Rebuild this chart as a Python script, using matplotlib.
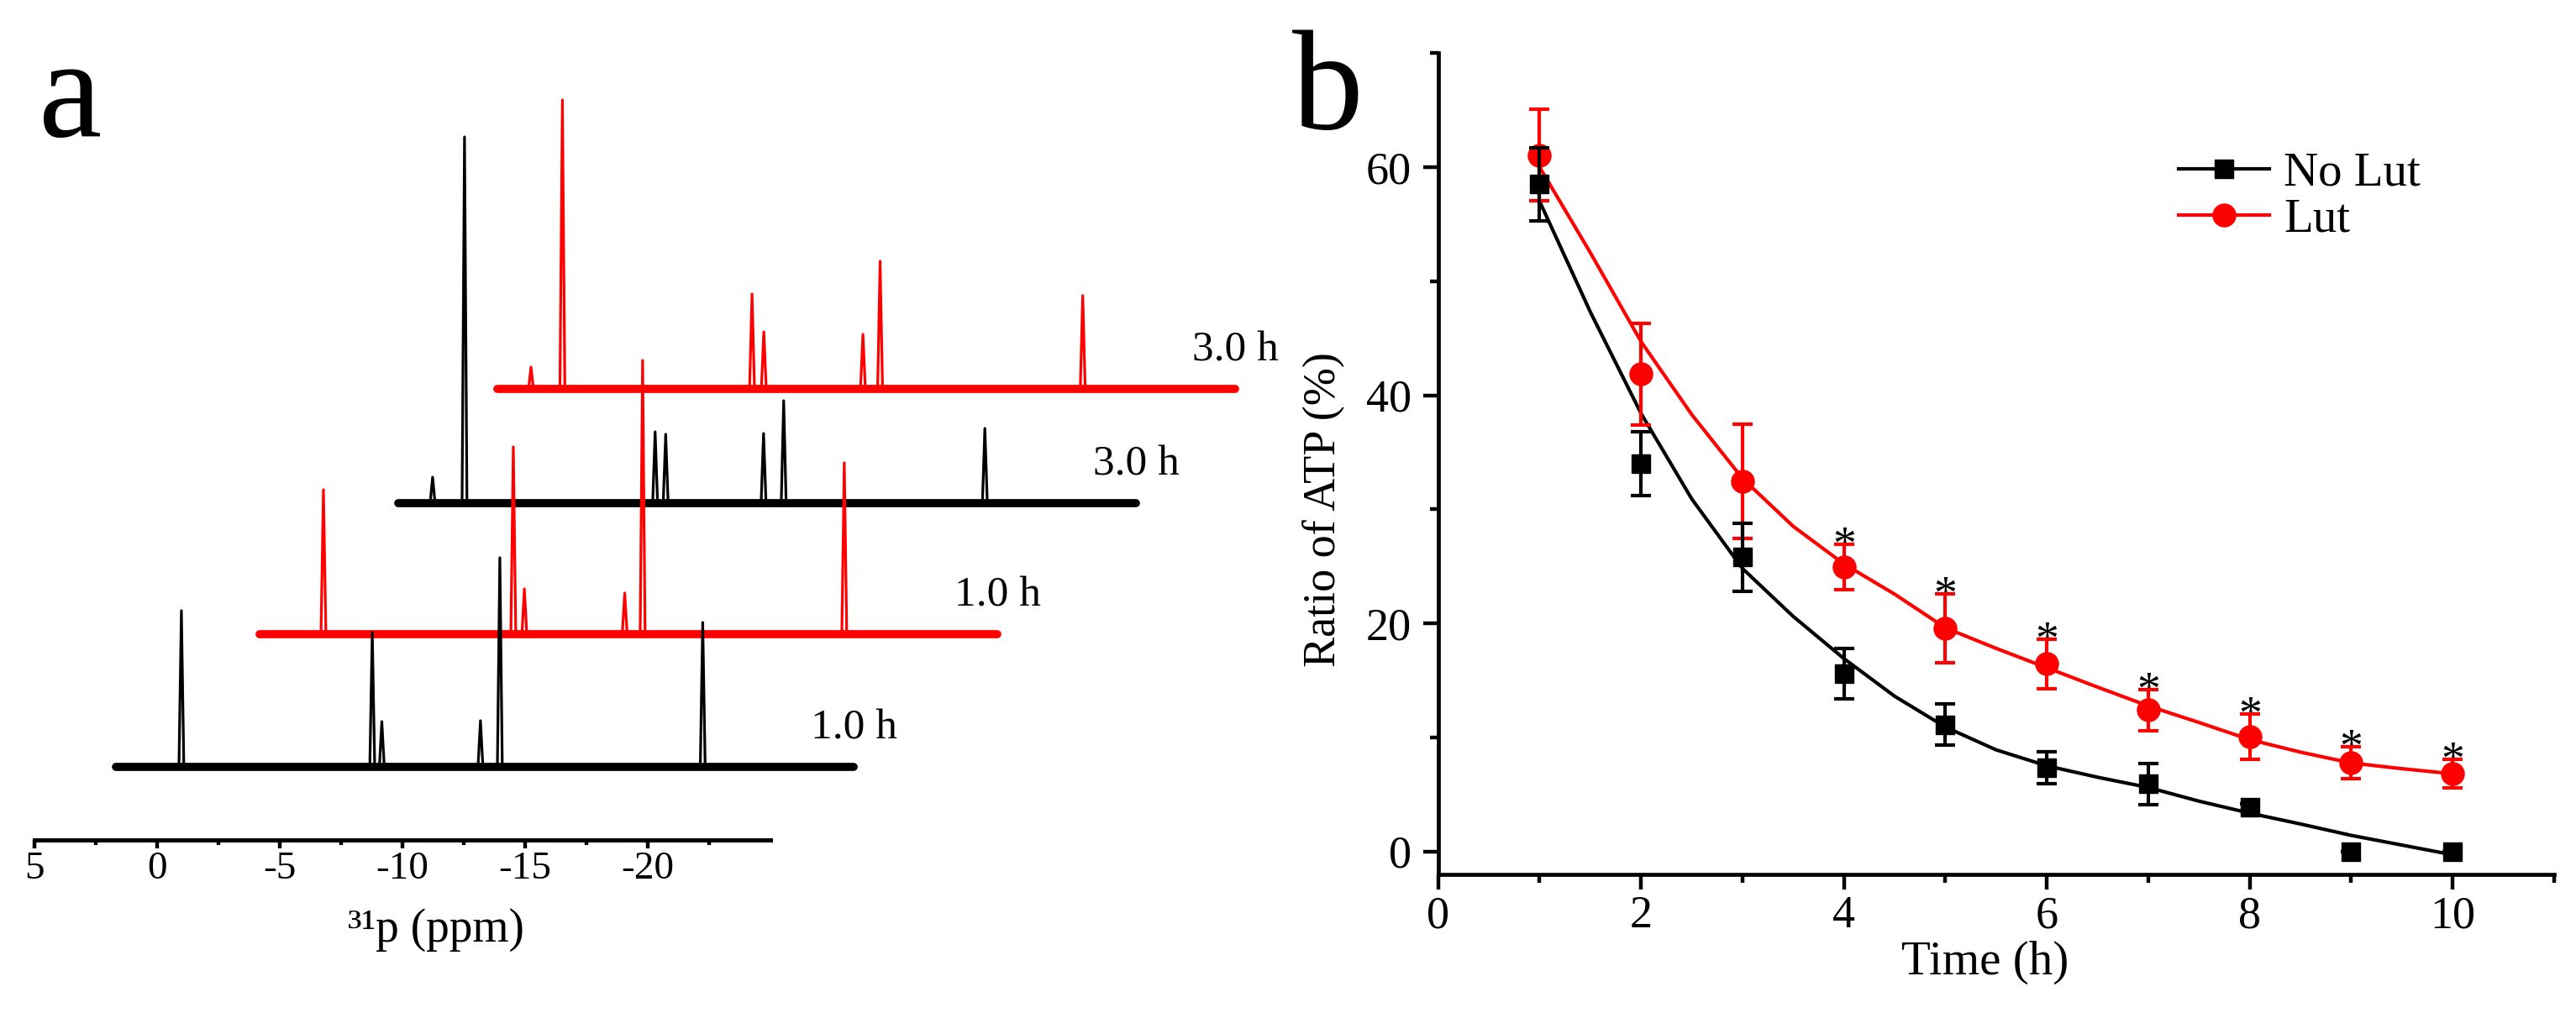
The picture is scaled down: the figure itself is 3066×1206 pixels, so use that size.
import matplotlib
matplotlib.use('Agg')
import matplotlib.pyplot as plt
from matplotlib.lines import Line2D
from matplotlib.ticker import MultipleLocator, FixedLocator

plt.rcParams['font.family'] = 'Liberation Serif'
plt.rcParams['axes.unicode_minus'] = False

# --- panel a: 31P NMR traces, peaks given in the frame of the lowest trace (ppm)
trace_start = 1.68
trace_end = -28.39
trace_labels = ['1.0 h', '1.0 h', '3.0 h', '3.0 h']
trace_colors = ['black', 'red', 'black', 'red']
peak_ppm = [
    [-0.99, -8.77, -9.16, -13.18, -13.97, -22.24],
    [-0.92, -8.66, -9.11, -13.20, -13.93, -22.15],
    [0.29, -1.01, -8.78, -9.21, -13.20, -14.02, -22.22],
    [0.31, -0.97, -8.70, -9.18, -13.22, -13.92, -22.18],
]
peak_height = [
    [186, 160, 54, 55, 249, 172],
    [172, 223, 54, 49, 326, 204],
    [31, 436, 85, 82, 83, 122, 89],
    [26, 344, 113, 68, 65, 152, 111],
]
# stacking of the traces (pseudo 3D)
shift_x = [0, -5.86, -11.52, -15.55]
shift_y = [87, 245, 401, 537]

# --- panel b: ATP ratio
time_h = [1, 2, 3, 4, 5, 6, 7, 8, 9, 10]
no_lut = [58.5, 34.0, 25.8, 15.6, 11.1, 7.3, 5.9, 3.85, 0.0, 0.0]
no_lut_err = [3.2, 2.8, 3.0, 2.2, 1.8, 1.4, 1.8, 0.3, 0.0, 0.0]
lut = [61.05, 41.85, 32.45, 24.96, 19.57, 16.44, 12.4, 10.05, 7.78, 6.8]
lut_err = [4.0, 4.45, 5.0, 2.0, 3.0, 2.2, 1.8, 2.0, 1.4, 1.25]
fit_t = [1, 1.5, 2, 2.5, 3, 3.5, 4, 4.5, 5, 5.5, 6, 6.5, 7, 7.5, 8, 8.5, 9, 9.5, 10]
no_lut_fit = [57.0, 47.3, 38.4, 30.9, 24.8, 20.6, 16.9, 13.6, 10.9, 8.9, 7.5,
              6.5, 5.6, 4.4, 3.35, 2.4, 1.4, 0.55, -0.3]
lut_fit = [60.0, 52.5, 44.7, 38.3, 32.7, 28.5, 25.2, 22.55, 19.6, 17.8, 16.1,
           14.4, 12.75, 11.3, 9.8, 8.7, 7.75, 7.25, 6.8]
signif = [4, 5, 6, 7, 8, 9, 10]

fig = plt.figure(figsize=(30.66, 12.06), dpi=100)

# ---------------- a
ax1 = fig.add_axes([0.01337, 0.17081, 0.48095, 0.74627])
half_w = 0.1
for i in range(4):
    xs = [trace_start]
    ys = [0]
    for p, h in zip(peak_ppm[i], peak_height[i]):
        xs += [p + half_w, p, p - half_w]
        ys += [0, h, 0]
    xs.append(trace_end)
    ys.append(0)
    xs = [x + shift_x[i] for x in xs]
    ys = [y + shift_y[i] for y in ys]
    z = 10 - i
    ax1.plot(xs, ys, color=trace_colors[i], lw=2.3, zorder=z)
    ax1.plot([trace_start + shift_x[i], trace_end + shift_x[i]], [shift_y[i], shift_y[i]],
             color=trace_colors[i], lw=7, solid_capstyle='round', zorder=z)
    ax1.text(trace_end + shift_x[i] + 1.75, shift_y[i] + 46, trace_labels[i],
             fontsize=37, ha='left', va='center')

ax1.set_xlim(5, -45.5)
ax1.set_ylim(0, 900)
for s in ['left', 'right', 'top']:
    ax1.spines[s].set_visible(False)
ax1.spines['bottom'].set_bounds(5, -25)
ax1.spines['bottom'].set_linewidth(3.6)
ax1.set_yticks([])
ax1.xaxis.set_major_locator(FixedLocator([5, 0, -5, -10, -15, -20]))
ax1.xaxis.set_minor_locator(FixedLocator([2.5, -2.5, -7.5, -12.5, -17.5, -22.5]))
ax1.tick_params(axis='x', which='major', length=7.5, width=3.2, labelsize=34, pad=2)
ax1.tick_params(axis='x', which='minor', length=4, width=3.2)
ax1.set_xlabel('³¹p (ppm)', fontsize=40)
ax1.xaxis.set_label_coords(0.324, -0.09)

# ---------------- b
ax2 = fig.add_axes([0.5583, 0.13706, 0.43322, 0.81045])
ax2.plot(fit_t, no_lut_fit, color='black', lw=3, zorder=3)
ax2.plot(fit_t, lut_fit, color='red', lw=3, zorder=3)
ax2.errorbar(time_h, lut, yerr=lut_err, fmt='o', color='red', ms=19.5,
             capsize=8.5, elinewidth=3, capthick=3, zorder=4)
ax2.errorbar(time_h, no_lut, yerr=no_lut_err, fmt='s', color='black', ms=16.5,
             capsize=8.5, elinewidth=3, capthick=3, zorder=5)

for t in signif:
    k = time_h.index(t)
    ax2.annotate('*', xy=(t, lut[k] + lut_err[k]), xytext=(0, -13),
                 textcoords='offset points', ha='center', va='baseline', fontsize=40)

ax2.set_xlim(0, 11)
ax2.set_ylim(-2, 70)
ax2.spines['top'].set_visible(False)
ax2.spines['right'].set_visible(False)
for s in ['left', 'bottom']:
    ax2.spines[s].set_linewidth(3.4)
ax2.xaxis.set_major_locator(MultipleLocator(2))
ax2.xaxis.set_minor_locator(MultipleLocator(1))
ax2.yaxis.set_major_locator(MultipleLocator(20))
ax2.yaxis.set_minor_locator(MultipleLocator(10))
ax2.tick_params(which='major', length=13, width=3.2, labelsize=39)
ax2.tick_params(which='minor', length=7, width=3.2)
ax2.tick_params(axis='x', which='major', pad=5)
ax2.tick_params(axis='y', which='major', pad=10)
ax2.set_xlabel('Time (h)', fontsize=41)
ax2.xaxis.set_label_coords(0.4903, -0.081)
ax2.set_ylabel('Ratio of ATP (%)', fontsize=39)
ax2.yaxis.set_label_coords(-0.084, 0.4437)

handles = [Line2D([0], [0], color='black', lw=3, marker='s', ms=16.5),
           Line2D([0], [0], color='red', lw=3, marker='o', ms=19.5)]
ax2.legend(handles, ['No Lut', 'Lut'], loc='upper left', bbox_to_anchor=(0.6636, 0.88),
           frameon=False, fontsize=41, borderpad=0, borderaxespad=0, handlelength=1.9,
           handletextpad=0.3, labelspacing=0.05)

fig.text(0.015, 0.8657, 'a', fontsize=122, va='baseline', ha='left')
fig.text(0.5016, 0.8731, 'b', fontsize=122, va='baseline', ha='left')

fig.savefig('out.png', dpi=100)
